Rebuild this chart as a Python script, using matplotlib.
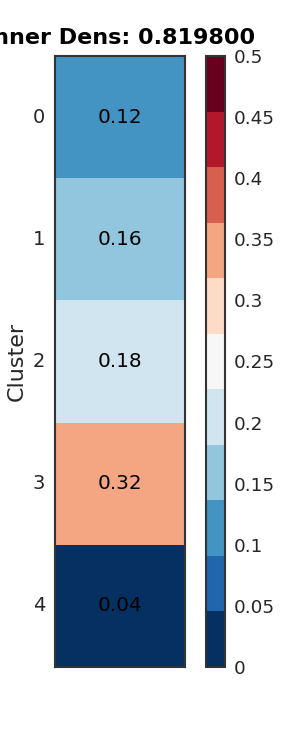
import matplotlib
matplotlib.use("Agg")
import matplotlib.pyplot as plt
import seaborn as sns
import numpy as np
from matplotlib.colors import ListedColormap

# data
clusters = ["0", "1", "2", "3", "4"]
inner_dens = [0.12, 0.16, 0.182, 0.32, 0.04]
total_dens = 0.8198
cbar_ticks = [0, 0.05, 0.1, 0.15, 0.2, 0.25, 0.3, 0.35, 0.4, 0.45, 0.5]

sns.set_theme(style="white", font_scale=1.2)
plt.rcParams['font.family'] = ['DejaVu Sans']

edge = '#333333'

fig = plt.figure(figsize=(3, 7.5), dpi=100)
ax = fig.add_axes([0.183, 0.111, 0.434, 0.814])
cax = fig.add_axes([0.687, 0.111, 0.063, 0.814])

cmap = ListedColormap(plt.get_cmap('RdBu_r', 11)(np.arange(11)))
data = np.array(inner_dens).reshape(-1, 1)

sns.heatmap(data, ax=ax, cbar_ax=cax, cmap=cmap, vmin=0, vmax=0.5,
            annot=True, fmt=".2f", annot_kws={"color": "black"},
            yticklabels=clusters, xticklabels=False)

# heatmap frame and ticks
for s in ax.spines.values():
    s.set_visible(True)
    s.set_color(edge)
    s.set_linewidth(1.5)
ax.set_xticks([0.5])
ax.set_xticklabels([''])
ax.tick_params(axis='both', which='major', direction='in', length=6, width=1.2,
               color=edge, top=True, bottom=True, left=True, right=True)
ax.tick_params(axis='y', pad=7, labelsize=14)
ax.set_yticklabels(clusters, rotation=0)
ax.set_ylabel("Cluster", fontsize=16, labelpad=4)
ax.set_title("Inner Dens: %f" % total_dens, fontsize=16, fontweight='bold',
             color='black', pad=9)

# colorbar
cbar = ax.collections[0].colorbar
cbar.outline.set_linewidth(1.5)
cbar.outline.set_edgecolor(edge)
cbar.set_ticks(cbar_ticks)
cbar.set_ticklabels([f"{t:g}" for t in cbar_ticks])
cbar.ax.tick_params(direction='in', length=6, width=1.2, color=edge, pad=6)

fig.savefig("out.png", dpi=100)
